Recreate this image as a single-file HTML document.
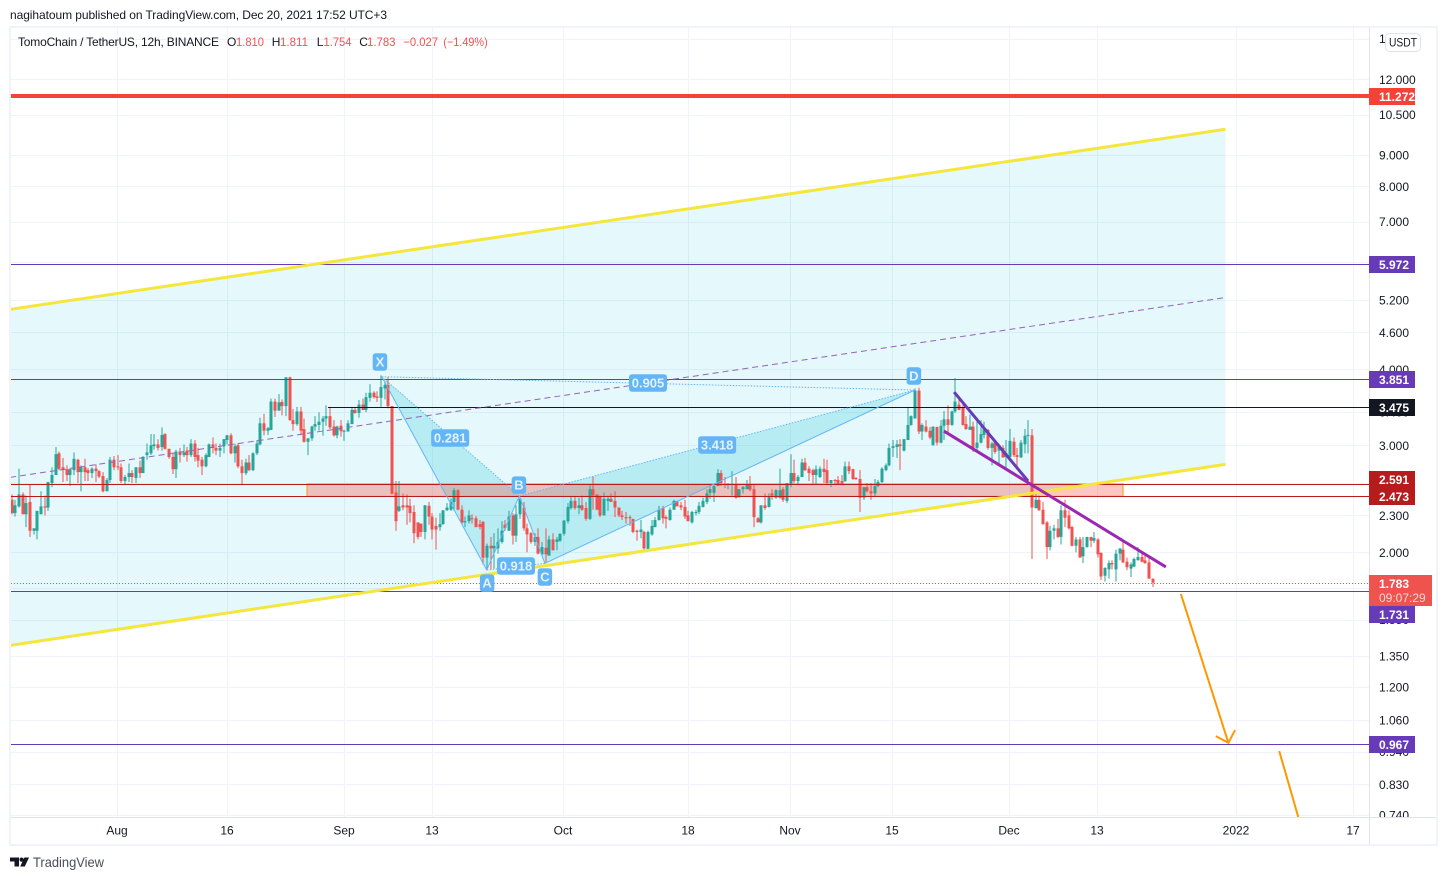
<!DOCTYPE html>
<html lang="en">
<head>
<meta charset="utf-8">
<title>TomoChain / TetherUS chart</title>
<style>
html,body{margin:0;padding:0;background:#fff;width:1447px;height:880px;overflow:hidden}
svg{display:block}
text{font-family:"Liberation Sans",sans-serif;font-size:12px;fill:#131722}
.red{fill:#ef5350}
</style>
</head>
<body>
<svg id="root" xmlns="http://www.w3.org/2000/svg" width="1447" height="880" viewBox="0 0 1447 880">
  <defs>
    <clipPath id="pane"><rect x="11" y="28" width="1358" height="789"/></clipPath>
    <clipPath id="axis"><rect x="1370" y="28" width="66" height="789"/></clipPath>
  </defs>
  <text x="10" y="19" textLength="377" lengthAdjust="spacing">nagihatoum published on TradingView.com, Dec 20, 2021 17:52 UTC+3</text>
  <rect x="10" y="27" width="1427" height="818" fill="#fff" stroke="#f0f3fa" stroke-width="2"/>
  <g id="grid"></g>
  <g id="pane-group" clip-path="url(#pane)">
    <g id="under"></g>
    <g id="candles"></g>
    <g id="over"></g>
  </g>
  <g id="labels"></g>
  <line x1="1369.5" y1="28" x2="1369.5" y2="844" stroke="#e0e3eb"/>
  <line x1="11" y1="817.5" x2="1436" y2="817.5" stroke="#e0e3eb"/>
  <g id="price-ticks" clip-path="url(#axis)"></g>
  <g id="time-ticks"></g>
  <g id="price-labels"></g>
  <g>
    <rect x="1385.5" y="33.5" width="35" height="18" rx="4" fill="#fff" stroke="#e0e3eb"/>
    <text x="1389" y="46.5" textLength="28" lengthAdjust="spacingAndGlyphs">USDT</text>
  </g>
  <g>
    <text x="18" y="46" textLength="201" lengthAdjust="spacing">TomoChain / TetherUS, 12h, BINANCE</text>
    <text x="227" y="46">O</text>
    <text class="red" x="236" y="46" textLength="28" lengthAdjust="spacingAndGlyphs">1.810</text>
    <text x="271.7" y="46">H</text>
    <text class="red" x="280" y="46" textLength="28" lengthAdjust="spacingAndGlyphs">1.811</text>
    <text x="316.7" y="46">L</text>
    <text class="red" x="323.5" y="46" textLength="28" lengthAdjust="spacingAndGlyphs">1.754</text>
    <text x="359.3" y="46">C</text>
    <text class="red" x="367" y="46" textLength="28.5" lengthAdjust="spacingAndGlyphs">1.783</text>
    <text class="red" x="403.3" y="46" textLength="34.7" lengthAdjust="spacingAndGlyphs">−0.027</text>
    <text class="red" x="443.3" y="46" textLength="44.4" lengthAdjust="spacingAndGlyphs">(−1.49%)</text>
  </g>
  <g>
    <path d="M10 857.5h9v9h-4.5v-5H10z" fill="#131722"/>
    <circle cx="21.6" cy="859.6" r="2.1" fill="#131722"/>
    <path d="M29 857.5l-4.2 9h-4.6l4.2-9z" fill="#131722"/>
    <text x="33" y="867" textLength="71" lengthAdjust="spacingAndGlyphs" style="font-size:14px;fill:#4a4e59">TradingView</text>
  </g>
</svg>
<script>
const opens=[2.44,2.32,2.38,2.49,2.31,2.42,2.17,2.17,2.31,2.38,
2.37,2.60,2.68,2.91,2.76,2.74,2.68,2.73,2.84,2.71,
2.76,2.73,2.70,2.745,2.72,2.67,2.52,2.63,2.84,2.77,
2.76,2.62,2.66,2.70,2.65,2.76,2.70,2.89,2.91,2.99,
3.01,2.98,3.13,2.96,2.87,2.74,2.93,2.89,2.94,2.89,
3.02,2.89,2.84,2.77,2.87,3.01,2.97,2.94,2.99,3.06,
3.115,2.91,3.00,2.77,2.70,2.81,2.73,2.91,3.01,3.26,
3.17,3.18,3.54,3.42,3.535,3.48,3.88,3.30,3.25,3.41,
3.19,3.04,3.08,3.22,3.24,3.28,3.32,3.35,3.22,3.115,
3.23,3.165,3.16,3.25,3.43,3.39,3.50,3.43,3.59,3.66,
3.61,3.59,3.72,3.77,3.48,2.51,2.34,2.39,2.39,2.385,
2.33,2.24,2.23,2.16,2.385,2.29,2.21,2.20,2.225,2.345,
2.35,2.42,2.53,2.35,2.24,2.25,2.275,2.275,2.225,2.245,
1.96,2.05,2.03,2.03,2.08,2.22,2.17,2.30,2.13,2.31,
2.37,2.19,2.15,2.08,2.12,1.985,2.035,1.975,2.10,2.08,
2.09,2.145,2.25,2.365,2.43,2.365,2.39,2.365,2.27,2.54,
2.49,2.47,2.30,2.43,2.45,2.43,2.37,2.30,2.285,2.285,
2.27,2.17,2.16,2.16,2.02,2.14,2.20,2.26,2.365,2.285,
2.26,2.35,2.43,2.39,2.375,2.30,2.24,2.32,2.33,2.375,
2.42,2.505,2.505,2.57,2.70,2.59,2.58,2.58,2.59,2.465,
2.54,2.54,2.59,2.54,2.275,2.24,2.39,2.375,2.50,2.46,
2.46,2.54,2.43,2.59,2.70,2.62,2.66,2.81,2.745,2.73,
2.68,2.66,2.745,2.73,2.60,2.63,2.63,2.62,2.62,2.77,
2.74,2.65,2.64,2.46,2.56,2.52,2.50,2.57,2.61,2.73,
2.78,2.97,2.98,3.01,2.94,3.06,3.24,3.32,3.69,3.16,
3.22,3.17,3.00,3.215,3.03,3.23,3.31,3.24,3.41,3.50,
3.46,3.25,3.18,3.22,2.97,3.03,3.12,3.18,2.97,3.03,
2.94,2.97,2.87,2.87,3.04,2.89,2.865,3.01,3.11,3.115,
2.365,2.44,2.35,2.24,2.04,2.17,2.19,2.12,2.345,2.30,
2.20,2.05,2.10,1.97,2.04,2.12,2.09,2.10,1.995,1.83,
1.875,1.92,1.875,1.99,2.02,1.93,1.88,1.895,1.94,1.965,1.94,1.925,1.81];
const highs=[2.49,2.44,2.745,2.51,2.48,2.59,2.19,2.34,2.52,2.48,
2.61,2.76,2.98,2.93,2.86,2.78,2.74,2.92,2.85,2.78,
2.85,2.75,2.76,2.79,2.73,2.71,2.65,2.87,2.88,2.89,
2.80,2.68,2.80,2.73,2.76,2.83,2.88,3.02,3.13,3.13,
3.07,3.21,3.14,2.96,2.91,2.95,2.97,3.01,2.98,3.07,
3.06,2.97,2.87,2.91,3.02,3.09,3.02,3.02,3.07,3.12,
3.14,3.02,3.02,2.84,2.85,2.89,2.92,3.06,3.33,3.38,
3.215,3.58,3.58,3.64,3.57,3.885,3.89,3.44,3.47,3.47,
3.32,3.08,3.23,3.35,3.40,3.35,3.49,3.47,3.30,3.23,
3.30,3.18,3.30,3.47,3.47,3.56,3.58,3.66,3.78,3.68,
3.68,3.91,3.82,3.885,3.48,2.62,2.62,2.50,2.49,2.45,
2.39,2.24,2.23,2.39,2.42,2.32,2.28,2.32,2.345,2.41,
2.45,2.55,2.54,2.39,2.29,2.345,2.31,2.295,2.26,2.25,
2.067,2.12,2.15,2.19,2.25,2.26,2.34,2.32,2.39,2.46,
2.42,2.23,2.16,2.15,2.19,2.08,2.19,2.13,2.15,2.12,
2.15,2.26,2.41,2.47,2.47,2.46,2.48,2.42,2.58,2.66,
2.49,2.48,2.51,2.48,2.50,2.52,2.37,2.34,2.33,2.30,
2.27,2.18,2.26,2.17,2.17,2.26,2.285,2.385,2.385,2.30,
2.37,2.44,2.43,2.42,2.44,2.34,2.34,2.35,2.42,2.46,
2.54,2.59,2.58,2.74,2.73,2.66,2.60,2.72,2.66,2.54,
2.57,2.63,2.67,2.59,2.285,2.39,2.50,2.50,2.54,2.54,
2.745,2.56,2.60,2.90,2.84,2.68,2.85,2.86,2.77,2.745,
2.78,2.77,2.85,2.84,2.63,2.64,2.67,2.68,2.82,2.82,
2.745,2.66,2.73,2.56,2.60,2.60,2.64,2.63,2.76,2.80,
3.02,3.06,3.06,3.07,3.07,3.47,3.36,3.72,3.73,3.26,
3.30,3.215,3.22,3.22,3.30,3.415,3.49,3.42,3.87,3.61,
3.50,3.35,3.37,3.28,3.31,3.30,3.28,3.19,3.04,3.04,
3.02,3.00,3.06,3.19,3.09,2.97,3.06,3.19,3.30,3.19,
2.51,2.48,2.42,2.25,2.21,2.22,2.27,2.39,2.44,2.345,
2.21,2.12,2.12,2.12,2.12,2.12,2.16,2.11,2.00,1.89,
1.94,1.94,2.02,2.03,2.08,1.96,1.925,1.96,2.04,2.00,1.98,1.965,1.811];
const lows=[2.31,2.29,2.37,2.31,2.20,2.12,2.14,2.10,2.31,2.30,
2.34,2.56,2.68,2.73,2.61,2.62,2.57,2.68,2.60,2.52,
2.62,2.62,2.65,2.61,2.65,2.51,2.52,2.60,2.73,2.73,
2.60,2.58,2.61,2.60,2.60,2.65,2.70,2.84,2.89,2.95,
2.94,2.94,2.95,2.85,2.69,2.65,2.81,2.87,2.82,2.87,
2.82,2.76,2.68,2.76,2.87,2.91,2.89,2.87,2.91,3.01,
2.90,2.81,2.75,2.59,2.68,2.72,2.72,2.89,3.00,3.115,
3.12,3.18,3.34,3.42,3.36,3.35,3.29,3.17,3.23,3.115,
3.03,2.89,3.05,3.17,3.17,3.11,3.23,3.19,3.10,3.08,
3.10,3.05,3.16,3.25,3.38,3.33,3.425,3.40,3.54,3.58,
3.535,3.47,3.57,3.45,2.49,2.17,2.33,2.345,2.22,2.24,
2.07,2.10,2.12,2.10,2.22,2.10,2.02,2.17,2.22,2.34,
2.34,2.34,2.345,2.22,2.20,2.23,2.23,2.20,2.18,1.91,
1.88,1.875,1.88,1.99,2.067,2.17,2.17,2.06,2.08,2.27,
2.17,2.00,2.067,2.05,1.985,1.98,1.92,1.975,2.015,2.015,
2.08,2.13,2.23,2.35,2.35,2.31,2.34,2.255,2.26,2.35,
2.345,2.285,2.30,2.34,2.42,2.285,2.285,2.26,2.23,2.21,
2.15,2.09,2.11,2.015,2.015,2.13,2.20,2.255,2.23,2.19,
2.255,2.35,2.38,2.345,2.27,2.25,2.23,2.30,2.31,2.37,
2.40,2.45,2.42,2.57,2.57,2.55,2.54,2.48,2.45,2.46,
2.50,2.54,2.52,2.20,2.24,2.23,2.35,2.37,2.44,2.45,
2.45,2.42,2.41,2.56,2.60,2.59,2.66,2.72,2.62,2.59,
2.59,2.65,2.60,2.59,2.56,2.59,2.58,2.58,2.61,2.69,
2.63,2.63,2.33,2.44,2.51,2.44,2.47,2.56,2.60,2.72,
2.77,2.87,2.86,2.73,2.93,3.06,3.23,3.32,3.13,3.06,
3.15,3.07,3.00,3.00,3.02,3.06,3.13,3.23,3.39,3.425,
3.23,3.18,3.18,2.925,2.95,3.02,3.08,2.95,2.78,2.905,
2.80,2.86,2.745,2.865,2.87,2.77,2.86,2.91,2.91,1.95,
2.36,2.34,2.22,1.95,2.015,2.10,2.11,2.06,2.20,2.18,
2.045,2.00,1.96,1.92,2.035,2.04,2.07,1.96,1.80,1.79,
1.81,1.875,1.79,1.94,1.92,1.87,1.82,1.89,1.94,1.925,1.915,1.81,1.754];
const closes=[2.32,2.39,2.49,2.31,2.41,2.17,2.19,2.34,2.38,2.37,
2.61,2.68,2.90,2.745,2.73,2.68,2.74,2.85,2.71,2.76,
2.71,2.70,2.745,2.72,2.665,2.52,2.63,2.84,2.76,2.76,
2.62,2.66,2.70,2.66,2.76,2.70,2.87,2.92,3.00,3.01,
2.97,3.12,2.96,2.87,2.74,2.93,2.89,2.92,2.89,3.02,
2.87,2.83,2.77,2.89,3.01,2.97,2.94,2.97,3.07,3.115,
2.91,2.99,2.77,2.70,2.81,2.73,2.91,3.02,3.26,3.17,
3.20,3.54,3.42,3.53,3.48,3.88,3.30,3.25,3.41,3.17,
3.04,3.08,3.22,3.25,3.28,3.32,3.35,3.21,3.115,3.22,
3.165,3.17,3.26,3.43,3.39,3.50,3.43,3.60,3.66,3.60,
3.59,3.74,3.77,3.48,2.498,2.25,2.38,2.37,2.37,2.32,
2.15,2.12,2.16,2.39,2.29,2.18,2.18,2.225,2.345,2.37,
2.42,2.53,2.35,2.24,2.25,2.30,2.27,2.20,2.20,1.96,
2.05,2.03,2.05,2.08,2.17,2.19,2.29,2.13,2.31,2.45,
2.19,2.14,2.08,2.12,1.99,2.04,1.985,2.10,2.015,2.10,
2.145,2.255,2.375,2.43,2.365,2.39,2.35,2.27,2.54,2.48,
2.35,2.30,2.45,2.45,2.42,2.37,2.30,2.285,2.275,2.275,
2.16,2.16,2.18,2.03,2.16,2.21,2.26,2.35,2.275,2.27,
2.35,2.43,2.38,2.37,2.29,2.25,2.33,2.33,2.385,2.43,
2.50,2.54,2.57,2.70,2.60,2.58,2.59,2.59,2.46,2.54,
2.56,2.59,2.535,2.285,2.24,2.39,2.365,2.47,2.48,2.53,
2.53,2.44,2.60,2.70,2.62,2.66,2.81,2.73,2.70,2.68,
2.74,2.745,2.71,2.60,2.63,2.62,2.59,2.59,2.77,2.72,
2.64,2.64,2.46,2.56,2.52,2.50,2.57,2.61,2.745,2.78,
2.97,2.99,3.01,2.99,3.07,3.24,3.35,3.69,3.16,3.24,
3.16,3.09,3.22,3.03,3.23,3.31,3.24,3.41,3.54,3.43,
3.24,3.19,3.22,2.96,3.03,3.13,3.19,2.97,3.02,2.925,
3.00,2.865,2.915,3.05,2.89,2.87,3.03,3.11,3.12,2.37,
2.44,2.345,2.225,2.04,2.17,2.19,2.12,2.345,2.28,2.19,
2.05,2.10,1.96,2.04,2.12,2.09,2.11,1.985,1.825,1.885,
1.92,1.91,1.99,2.03,1.925,1.89,1.91,1.95,1.965,1.93,1.92,1.81,1.783];

const priceTicks=[14,12,10.5,9,8,7,6,5.2,4.6,4,3.4,3,2.6,2.3,2,1.75,1.55,1.35,1.2,1.06,0.94,0.83,0.74];
const timeLabels=['Aug','16','Sep','13','Oct','18','Nov','15','Dec','13','2022','17'];
const timeBars=[29,59,91,115,151,185,213,241,273,297,335,367];

const channelTopBars=[-0.4,331.9];
const channelTopPrices=[5.02,9.93];
const channelBottomBars=[-0.4,331.9];
const channelBottomPrices=[1.406,2.79];
const channelMidBars=[-0.4,331.9];
const channelMidPrices=[2.657,5.25];

const zoneBars=[80.75,303.9];
const zonePrices=[2.591,2.473];

const patternNames=['X','A','B','C','D'];
const patternBars=[101.2,129.9,138.8,145.8,247];
const patternPrices=[3.889,1.87,2.475,1.918,3.698];
const patternLabelBars=[100.7,130,138.7,145.8,246.7];
const patternLabelPrices=[4.112,1.78,2.58,1.821,3.90];
const ratioTexts=['0.905','0.281','3.418','0.918'];
const ratioBars=[174,119.9,192.9,137.9];
const ratioPrices=[3.798,3.084,3.003,1.899];

const wedgeUpperBars=[257.7,277.9];
const wedgeUpperPrices=[3.67,2.62];
const wedgeLowerBars=[254.9,315.6];
const wedgeLowerPrices=[3.166,1.892];

const arrowOneBars=[319.7,332.7];
const arrowOnePrices=[1.708,0.972];
const arrowTwoBars=[346.6,351.8];
const arrowTwoPrices=[0.942,0.734];

const linePrices=[11.272,5.972,3.851,3.475,2.591,2.473,1.731,0.967];
const lineColors=['#f44336','#673ab7','#673ab7','#131722','#b71c1c','#b71c1c','#673ab7','#673ab7'];
const lineWidths=[4,1,1,1,1,1,1,1];
const lineStartBars=[-1,-1,-1,86.5,-1,-1,-1,-1];
const lastCountdown='09:07:29';

const NS='http://www.w3.org/2000/svg';
function xScale(bar){return 11.7+3.657*bar;}
function yScale(price){return 552.3-264*Math.log(price/2);}
function rowOf(price){return Math.round(yScale(price)+0.15);}
function make(tag,attrs,parent){
  const el=document.createElementNS(NS,tag);
  for(const k in attrs){el.setAttribute(k,attrs[k]);}
  parent.appendChild(el);
  return el;
}
function fmt(p){return p.toFixed(3);}
const gridG=document.getElementById('grid');
const under=document.getElementById('under');
const candleG=document.getElementById('candles');
const over=document.getElementById('over');
const labelG=document.getElementById('labels');
const priceG=document.getElementById('price-ticks');
const timeG=document.getElementById('time-ticks');
const priceLabelG=document.getElementById('price-labels');

priceTicks.forEach(function(p){
  const y=Math.round(yScale(p))+0.5;
  const gl=make('line',{x1:11,x2:1369,y1:y,y2:y,stroke:'#f0f3fa'},gridG);
  
  
  const t=make('text',{x:1379,y:yScale(p)+4.5},priceG);
  t.textContent=fmt(p);
  
  
});
timeLabels.forEach(function(label,i){
  const x=Math.round(xScale(timeBars[i])-0.7)+0.5;
  const gl=make('line',{x1:x,x2:x,y1:28,y2:817,stroke:'#f0f3fa'},gridG);
  
  
  const t=make('text',{x:x-0.5,y:834.5,'text-anchor':'middle'},timeG);
  t.textContent=label;
  
  
});

const chFill=make('polygon',{points:[
  xScale(channelTopBars[0])+','+yScale(channelTopPrices[0]),
  xScale(channelTopBars[1])+','+yScale(channelTopPrices[1]),
  xScale(channelBottomBars[1])+','+yScale(channelBottomPrices[1]),
  xScale(channelBottomBars[0])+','+yScale(channelBottomPrices[0])
].join(' '),fill:'rgba(0,188,212,0.1)'},under);



function pt(i){return xScale(patternBars[i])+','+yScale(patternPrices[i]);}
const triOne=make('polygon',{points:[pt(0),pt(1),pt(2)].join(' '),fill:'rgba(0,188,212,0.2)'},under);


const triTwo=make('polygon',{points:[pt(2),pt(3),pt(4)].join(' '),fill:'rgba(0,188,212,0.2)'},under);



const zone=make('rect',{x:xScale(zoneBars[0]),y:yScale(zonePrices[0]),width:xScale(zoneBars[1])-xScale(zoneBars[0]),height:yScale(zonePrices[1])-yScale(zonePrices[0]),fill:'rgba(244,67,54,0.3)',stroke:'#ff9800','stroke-width':1},under);



closes.forEach(function(c,i){
  const o=opens[i];
  const color=c>=o?'#26a69a':'#ef5350';
  const cx=Math.round(xScale(i));
  const top=yScale(Math.max(o,c));
  const bot=yScale(Math.min(o,c));
  const g=make('g',{},candleG);
  
  
  make('rect',{x:cx-0.5,y:yScale(highs[i]),width:1,height:Math.max(1,yScale(lows[i])-yScale(highs[i])),fill:color},g);
  make('rect',{x:cx-1.5,y:top,width:3,height:Math.max(1,bot-top),fill:color},g);
});

function segment(parent,xs,ys,style,name){
  const l=make('line',Object.assign({x1:xScale(xs[0]),y1:yScale(ys[0]),x2:xScale(xs[1]),y2:yScale(ys[1])},style),parent);
  
  
  return l;
}

linePrices.forEach(function(p,i){
  const y=lineWidths[i]%2===0?rowOf(p):rowOf(p)+0.5;
  const start=Math.max(11,xScale(lineStartBars[i]));
  const l=make('line',{x1:start,x2:1369,y1:y,y2:y,stroke:lineColors[i],'stroke-width':lineWidths[i]},over);
  
  
});
const lastRow=rowOf(closes[closes.length-1])+0.5;
const lastLine=make('line',{x1:11,x2:1369,y1:lastRow,y2:lastRow,stroke:'#ef5350','stroke-dasharray':'1 2'},over);



segment(over,channelMidBars,channelMidPrices,{stroke:'#9463b8','stroke-width':1,'stroke-dasharray':'6 4'},'channel-median-line');
segment(over,channelTopBars,channelTopPrices,{stroke:'#f5e63c','stroke-width':3},'channel-upper-line');
segment(over,channelBottomBars,channelBottomPrices,{stroke:'#f5e63c','stroke-width':3},'channel-lower-line');

const solidPairs=[[0,1],[1,2],[2,3],[3,4]];
solidPairs.forEach(function(pr){
  segment(over,[patternBars[pr[0]],patternBars[pr[1]]],[patternPrices[pr[0]],patternPrices[pr[1]]],{stroke:'#64b5f6','stroke-width':1},'pattern-leg');
});
const dottedPairs=[[0,2],[2,4],[0,4],[1,3]];
dottedPairs.forEach(function(pr){
  segment(over,[patternBars[pr[0]],patternBars[pr[1]]],[patternPrices[pr[0]],patternPrices[pr[1]]],{stroke:'#64b5f6','stroke-width':1,'stroke-dasharray':'1.5 1.5'},'pattern-ratio-line');
});

segment(over,wedgeUpperBars,wedgeUpperPrices,{stroke:'#673ab7','stroke-width':3},'wedge-upper-line');
segment(over,wedgeLowerBars,wedgeLowerPrices,{stroke:'#9c27b0','stroke-width':3},'wedge-lower-line');

segment(over,arrowOneBars,arrowOnePrices,{stroke:'#ff9800','stroke-width':2},'target-arrow-shaft');
const tipX=xScale(arrowOneBars[1]);
const tipY=yScale(arrowOnePrices[1]);
const head=make('polyline',{points:(tipX-12.6)+','+(tipY-6.7)+' '+tipX+','+tipY+' '+(tipX+6.7)+','+(tipY-12.7),fill:'none',stroke:'#ff9800','stroke-width':2},over);


segment(over,arrowTwoBars,arrowTwoPrices,{stroke:'#ff9800','stroke-width':2},'second-target-arrow');

function badge(text,cx,cy,w,h,name){
  const g=make('g',{},labelG);
  
  
  make('rect',{x:cx-w/2,y:cy-h/2,width:w,height:h,rx:3,fill:'#64b5f6'},g);
  const t=make('text',{x:cx,y:cy+4.5,'text-anchor':'middle',style:'font-size:13px;font-weight:bold;fill:#e3f2fd'},g);
  t.textContent=text;
}
ratioTexts.forEach(function(txt,i){
  badge(txt,xScale(ratioBars[i]),yScale(ratioPrices[i]),38,17.5,'pattern-ratio-label');
});
patternNames.forEach(function(txt,i){
  badge(txt,xScale(patternLabelBars[i]),yScale(patternLabelPrices[i]),14.5,17.5,'pattern-point-label');
});

function stackShift(p){
  if(p===2.591){return -5;}
  if(p===1.731){return 23;}
  return 0;
}
linePrices.forEach(function(p,i){
  const cy=rowOf(p)+0.5+stackShift(p);
  const g=make('g',{},priceLabelG);
  
  
  make('rect',{x:1369,y:cy-8.5,width:46,height:17,fill:lineColors[i]},g);
  const t=make('text',{x:1379,y:cy+4.5,style:'font-weight:bold;fill:#fff'},g);
  t.textContent=fmt(p);
});
const lastPrice=closes[closes.length-1];
const lastG=make('g',{},priceLabelG);


make('rect',{x:1369,y:lastRow-8.5,width:63,height:31,fill:'#ef5350'},lastG);
const lastText=make('text',{x:1379,y:lastRow+4.5,style:'font-weight:bold;fill:#fff'},lastG);
lastText.textContent=fmt(lastPrice);
const cdText=make('text',{x:1379,y:lastRow+18.5,style:'fill:#fbd5d4'},lastG);
cdText.textContent=lastCountdown;
</script>
</body>
</html>
